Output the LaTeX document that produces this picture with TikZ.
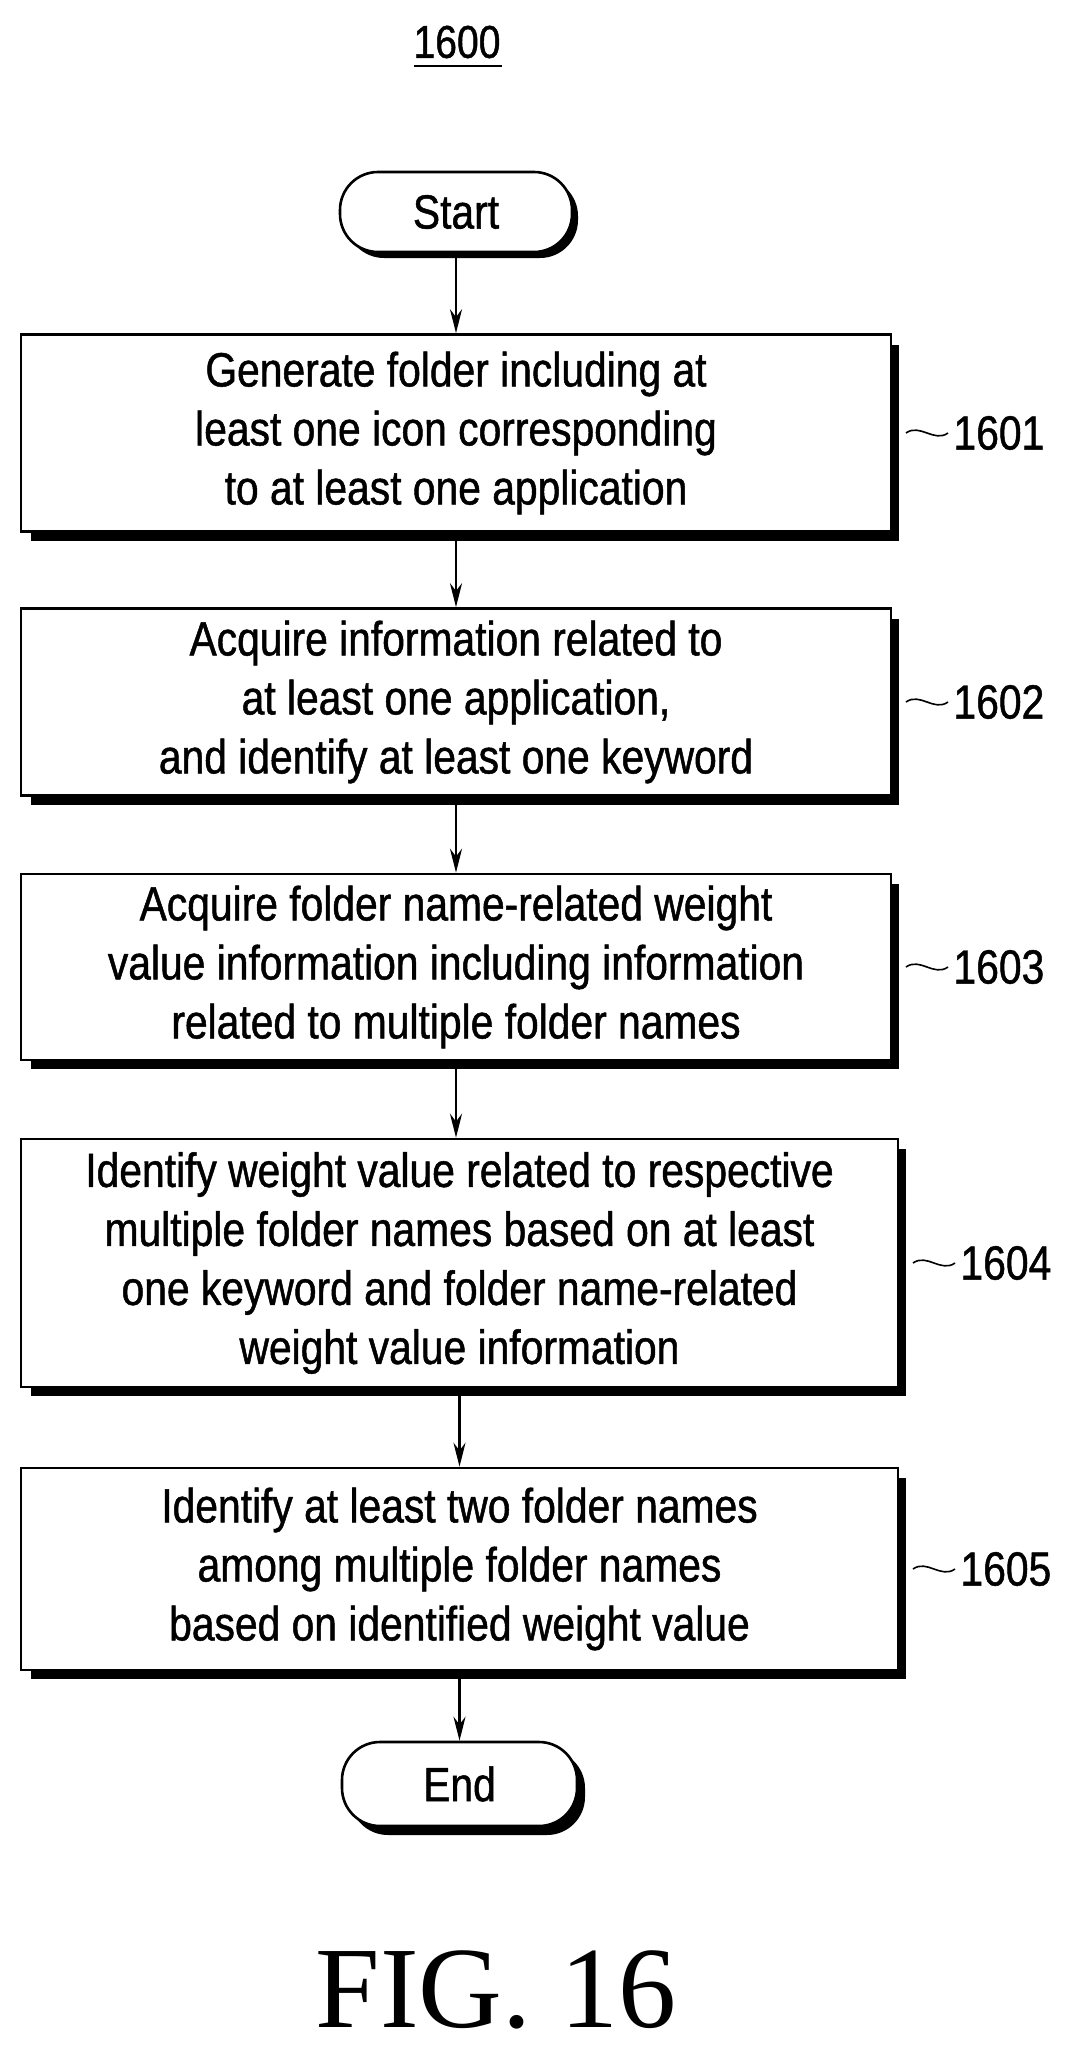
\documentclass[tikz,border=0pt]{standalone}
\usepackage{fontspec}
\setmainfont{Liberation Serif}
\newfontfamily\nar[FakeStretch=0.85,FakeBold=1]{Liberation Sans}
\usetikzlibrary{arrows.meta,calc}
\begin{document}
\begin{tikzpicture}[x=1pt,y=-1pt,
  txt/.style={font=\nar\fontsize{48}{59}\selectfont,align=center},
  box/.style={draw,line width=2.6pt,fill=white,txt},
  arr/.style={-{Stealth[length=24pt,width=12pt]},line width=2.4pt},
  lab/.style={font=\nar\fontsize{48}{56}\selectfont,anchor=west}]
\useasboundingbox (0,0) rectangle (1070,2056);
\node[font=\nar\fontsize{46}{50}\selectfont] (t) at (457,42) {1600};
\draw[line width=2.4pt] (414,66) -- (502,66);
% start
\fill[rounded corners=38pt] (346,178) rectangle (578,258);
\node[draw,line width=2.6pt,fill=white,rounded corners=38pt,minimum width=232pt,minimum height=80pt,txt] (s) at (456,212) {Start};
\fill (31,345) rectangle (899,541);
\node[box,minimum width=870pt,minimum height=197pt] (b1) at (456,433) {Generate folder including at\\least one icon corresponding\\to at least one application};
\fill (31,619) rectangle (899,805);
\node[box,minimum width=870pt,minimum height=187pt] (b2) at (456,702) {Acquire information related to\\at least one application,\\and identify at least one keyword};
\fill (31,884) rectangle (899,1069);
\node[box,minimum width=870pt,minimum height=186pt] (b3) at (456,967) {Acquire folder name-related weight\\value information including information\\related to multiple folder names};
\fill (31,1149) rectangle (906,1396);
\node[box,minimum width=877pt,minimum height=248pt] (b4) at (459.5,1263) {Identify weight value related to respective\\multiple folder names based on at least\\one keyword and folder name-related\\weight value information};
\fill (31,1478) rectangle (906,1679);
\node[box,minimum width=877pt,minimum height=202pt] (b5) at (459.5,1569) {Identify at least two folder names\\among multiple folder names\\based on identified weight value};
\fill[rounded corners=38pt] (350,1750) rectangle (585,1835);
\node[draw,line width=2.6pt,fill=white,rounded corners=38pt,minimum width=235pt,minimum height=84pt,txt] (e) at (459.5,1784) {End};
\draw[arr] (s.south) -- (b1.north);
\draw[arr] (b1.south) -- (b2.north);
\draw[arr] (b2.south) -- (b3.north);
\draw[arr] (b3.south) -- ($(b4.north)+(-3.5,0)$);
\draw[arr] (b4.south) -- (b5.north);
\draw[arr] (b5.south) -- (e.north);
\foreach \b/\n/\x in {b1/1601/899,b2/1602/899,b3/1603/899,b4/1604/906,b5/1605/906}{
  \draw[line width=1.6pt] (\x+7,0 |- \b.east) .. controls +(14,-10) and +(-14,10) .. ++(42,0) coordinate (c\n);
  \node[lab] (l\n) at ($(c\n)+(2,0)$) {\n};
}
\node[font=\fontsize{116}{116}\selectfont] (fig) at (496,1990) {FIG. 16};
\end{tikzpicture}
\end{document}
